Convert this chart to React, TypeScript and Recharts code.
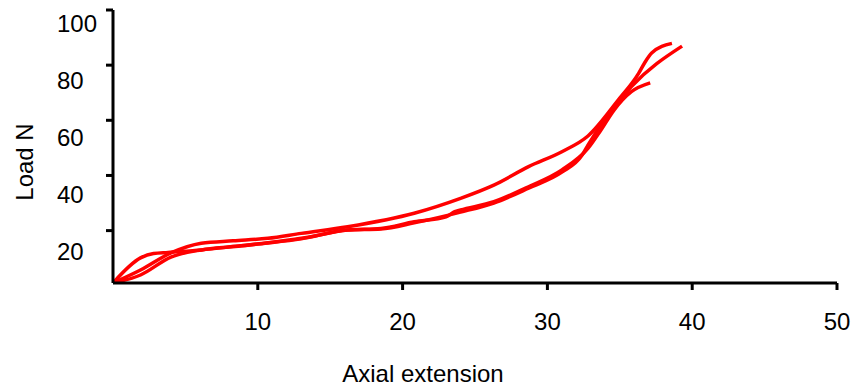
import React from 'react';
import { LineChart, Line, XAxis, YAxis, Label } from 'recharts';

// three load/extension traces
const sampleAX = [0, 1.9, 2.8, 3.8, 6.1, 8.3, 10.7, 13.0, 16.2, 18.5, 20.8, 23.0, 23.6, 24.0, 26.3, 28.7, 31.0, 32.8, 33.7, 34.6, 35.8, 37.1];
const sampleAY = [1, 10.1, 11.7, 12.1, 13.0, 14.2, 15.6, 17.2, 20.2, 20.8, 23.2, 25.0, 26.9, 27.5, 30.5, 35.9, 42.0, 49.8, 56.5, 63.7, 70.4, 73.6];

const sampleBX = [0, 1.9, 4.0, 6.1, 8.3, 10.7, 13.0, 16.2, 20.8, 24.0, 26.3, 28.7, 31.0, 32.8, 34.9, 36.3, 36.7, 37.2, 38.6];
const sampleBY = [1, 5.7, 11.9, 15.4, 16.3, 17.2, 19.0, 21.4, 26.3, 31.7, 36.5, 43.2, 48.6, 54.3, 67.4, 77.0, 80.7, 84.4, 87.9];

const sampleCX = [0, 1.9, 4.0, 6.1, 8.3, 10.7, 13.0, 16.2, 18.5, 20.8, 24.0, 26.3, 28.7, 31.0, 32.4, 32.8, 35.8, 39.3];
const sampleCY = [1, 3.9, 10.4, 13.0, 14.2, 15.5, 17.0, 20.2, 20.6, 22.8, 26.7, 30.0, 35.4, 41.2, 47.4, 51.0, 72.2, 86.9];

const xTicks = [10, 20, 30, 40, 50];
const yTicks = [20, 40, 60, 80, 100];

const toPoints = (xs: number[], ys: number[]) => xs.map((x, i) => ({ x, y: ys[i] }));

const FONT = '"Liberation Sans", Arial, sans-serif';

const XTick = (props: any) => {
  const { x, y, payload } = props;
  return (
    <text x={x} y={y} dy={38} textAnchor="middle" fontFamily={FONT} fontSize={24} fill="#000">
      {payload.value}
    </text>
  );
};

const YTick = (props: any) => {
  const { x, y, payload } = props;
  // labels sit a little below their tick marks in the original
  const shift = 13 + (100 - payload.value) * 0.1 + 8.6;
  return (
    <text x={x - 47} y={y + shift} textAnchor="start" fontFamily={FONT} fontSize={24} fill="#000">
      {payload.value}
    </text>
  );
};

export default function App() {
  return (
    <div style={{ position: 'absolute', left: 0, top: 0, background: '#fff' }}>
      <LineChart width={856} height={390} margin={{ top: 10, right: 19, left: 13, bottom: 47 }}>
        <XAxis
          type="number"
          dataKey="x"
          domain={[0, 50]}
          ticks={xTicks}
          allowDataOverflow
          height={60}
          tickSize={7}
          stroke="#000"
          strokeWidth={3}
          tick={<XTick />}
        >
          <Label
            content={() => (
              <text x={423} y={382} textAnchor="middle" fontFamily={FONT} fontSize={24} fill="#000">
                Axial extension
              </text>
            )}
          />
        </XAxis>
        <YAxis
          type="number"
          dataKey="y"
          domain={[1, 100]}
          ticks={yTicks}
          allowDataOverflow
          width={100}
          tickSize={7}
          stroke="#000"
          strokeWidth={3}
          tick={<YTick />}
        >
          <Label
            content={() => (
              <text transform="translate(33,162) rotate(-90)" textAnchor="middle" fontFamily={FONT} fontSize={24} fill="#000">
                Load N
              </text>
            )}
          />
        </YAxis>
        <Line data={toPoints(sampleAX, sampleAY)} dataKey="y" type="monotone" stroke="#ff0000" strokeWidth={3.5} dot={false} isAnimationActive={false} />
        <Line data={toPoints(sampleBX, sampleBY)} dataKey="y" type="monotone" stroke="#ff0000" strokeWidth={3.5} dot={false} isAnimationActive={false} />
        <Line data={toPoints(sampleCX, sampleCY)} dataKey="y" type="monotone" stroke="#ff0000" strokeWidth={3.5} dot={false} isAnimationActive={false} />
      </LineChart>
    </div>
  );
}
